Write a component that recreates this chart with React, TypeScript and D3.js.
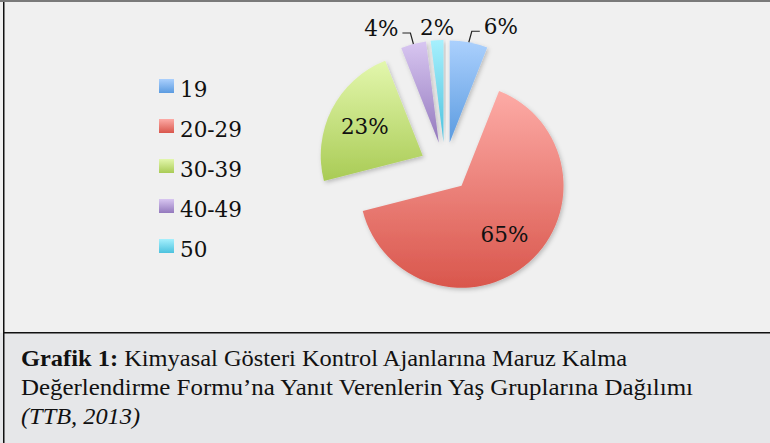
import * as d3 from "d3";

// age groups and their share of respondents (%)
const categories = ["19", "20-29", "30-39", "40-49", "50"];
const shares = [6, 65, 23, 4, 2];
const pctLabels = ["6%", "65%", "23%", "4%", "2%"];
// label placement: inside the slice or outside with a leader
const labelModes = ["right", "inside", "inside", "left", "top"];
const topColors = ["#abd0fd", "#fdaba6", "#e3f7ad", "#d8c6f1", "#a6f0fd"];
const bottomColors = ["#5b9be0", "#d9564c", "#a9cb55", "#9379bd", "#4cc2de"];

const captionBold = "Grafik 1:";
const captionLines = [
  " Kimyasal Gösteri Kontrol Ajanlarına Maruz Kalma",
  "Değerlendirme Formu’na Yanıt Verenlerin Yaş Gruplarına Dağılımı",
  "(TTB, 2013)",
];

const W = 770;
const H = 443;

export default function App() {
  const cx = 445;
  const cy = 167;
  const R = 102;
  const explode = 25;
  const chartFont = "'DejaVu Serif', serif";
  const fs = 21.5;

  const pie = d3
    .pie<number>()
    .sort(null)
    .value((d) => d);
  const slices = pie(shares);
  const arc = d3.arc<d3.PieArcDatum<number>>().innerRadius(0).outerRadius(R);
  const labelArc = d3
    .arc<d3.PieArcDatum<number>>()
    .innerRadius(65)
    .outerRadius(65);

  const dir = (s: d3.PieArcDatum<number>) => {
    const a = (s.startAngle + s.endAngle) / 2;
    return [Math.sin(a), -Math.cos(a)];
  };

  return (
    <svg
      width={W}
      height={H}
      style={{ position: "absolute", left: 0, top: 0, display: "block" }}
    >
      <defs>
        {categories.map((c, i) => (
          <linearGradient key={c} id={"grad" + i} x1="0" y1="0" x2="0" y2="1">
            <stop offset="0%" stopColor={topColors[i]} />
            <stop offset="100%" stopColor={bottomColors[i]} />
          </linearGradient>
        ))}
        <filter id="shadow" x="-20%" y="-20%" width="140%" height="140%">
          <feDropShadow
            dx="1.5"
            dy="2"
            stdDeviation="2"
            floodColor="#000"
            floodOpacity="0.22"
          />
        </filter>
      </defs>

      {/* frame */}
      <rect x={0} y={0} width={W} height={H} fill="#f0f0f0" />
      <rect x={0} y={0} width={W} height={2} fill="#7a7a7a" />
      <rect x={0} y={333} width={W} height={H - 333} fill="#e6e7e9" />
      <rect x={3} y={332} width={W - 3} height={1.5} fill="#111" />
      <rect x={3} y={2} width={1.5} height={H} fill="#111" />

      {/* pie */}
      <g transform={`translate(${cx},${cy})`}>
        {slices.map((s, i) => {
          const [dx, dy] = dir(s);
          return (
            <path
              key={categories[i]}
              d={arc(s) || ""}
              transform={`translate(${dx * explode},${dy * explode})`}
              fill={`url(#grad${i})`}
              filter="url(#shadow)"
            />
          );
        })}
        {slices.map((s, i) => {
          const [dx, dy] = dir(s);
          const mode = labelModes[i];
          if (mode === "inside") {
            const [lx, ly] = labelArc.centroid(s);
            return (
              <text
                key={"l" + i}
                x={lx + dx * explode}
                y={ly + dy * explode + 7.5}
                textAnchor="middle"
                fontFamily={chartFont}
                fontSize={fs}
                fill="#111"
              >
                {pctLabels[i]}
              </text>
            );
          }
          const ox = dx * (explode + R);
          const oy = dy * (explode + R);
          if (mode === "top") {
            return (
              <text
                key={"l" + i}
                x={ox}
                y={oy - 5}
                textAnchor="middle"
                fontFamily={chartFont}
                fontSize={fs}
                fill="#111"
              >
                {pctLabels[i]}
              </text>
            );
          }
          const side = mode === "right" ? 1 : -1;
          const ey = oy - 11;
          const ex = ox + side * 3;
          const hx = ex + side * 8;
          return (
            <g key={"l" + i}>
              <polyline
                points={`${ox},${oy} ${ex},${ey} ${hx},${ey}`}
                fill="none"
                stroke="#222"
                strokeWidth={1.2}
              />
              <text
                x={hx + side * 4}
                y={ey + 3}
                textAnchor={side > 0 ? "start" : "end"}
                fontFamily={chartFont}
                fontSize={fs}
                fill="#111"
              >
                {pctLabels[i]}
              </text>
            </g>
          );
        })}
      </g>

      {/* legend */}
      <g transform="translate(159,79)">
        {categories.map((c, i) => (
          <g key={c} transform={`translate(0,${i * 40})`}>
            <rect width={15} height={14} fill={`url(#grad${i})`} />
            <text
              x={21}
              y={18}
              fontFamily={chartFont}
              fontSize={fs}
              fill="#111"
            >
              {c}
            </text>
          </g>
        ))}
      </g>

      {/* caption */}
      <g fontFamily="'Liberation Serif', serif" fontSize={22.5} fill="#111">
        <text x={21} y={366} textLength={606} lengthAdjust="spacingAndGlyphs">
          <tspan fontWeight="bold">{captionBold}</tspan>
          <tspan>{captionLines[0]}</tspan>
        </text>
        <text x={21} y={395} textLength={672} lengthAdjust="spacingAndGlyphs">
          {captionLines[1]}
        </text>
        <text
          x={21}
          y={424}
          fontStyle="italic"
          textLength={119}
          lengthAdjust="spacingAndGlyphs"
        >
          {captionLines[2]}
        </text>
      </g>
    </svg>
  );
}
